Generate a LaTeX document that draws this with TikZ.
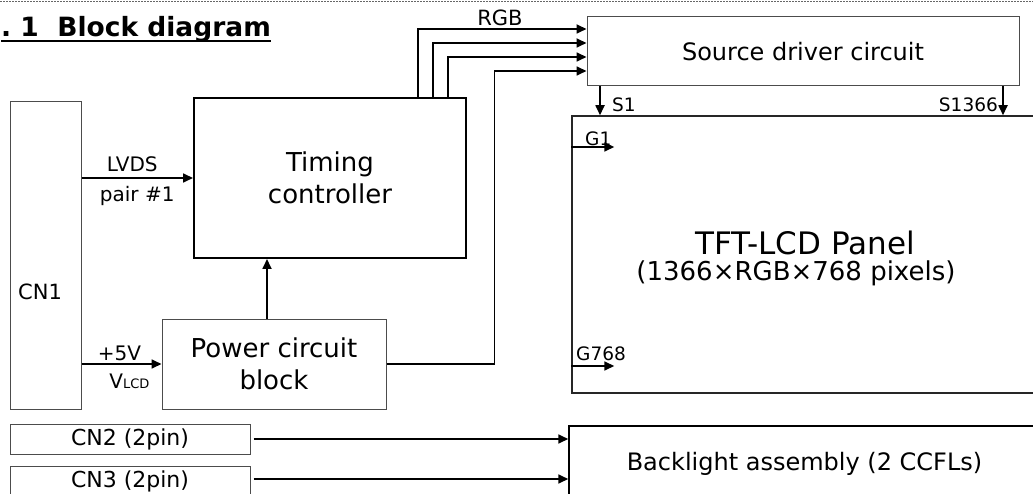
\documentclass[tikz,border=0pt]{standalone}
\usepackage{fontspec}
\setmainfont{DejaVu Sans}
\usetikzlibrary{arrows.meta, positioning, calc}

\newcommand{\setfs}[2]{\fontsize{#1}{#2}\selectfont}

\begin{document}
\begin{tikzpicture}[
    x=1pt, y=-1pt,
    box/.style={draw=black!70, line width=1pt, inner sep=0pt, font=\setfs{24}{28}},
    tcbox/.style={draw, line width=2pt, inner sep=0pt, align=center, font=\setfs{26}{32}},
    edge/.style={-{Triangle[length=10pt,width=9pt]}, line width=1.7pt},
    lbl/.style={font=\setfs{20}{24}, inner sep=2pt},
    pin/.style={font=\setfs{18.5}{22}, inner sep=0pt}
]
\useasboundingbox (0,0) rectangle (1033,494);
\clip (0,0) rectangle (1033,494);

% header
\draw[black!60, line width=1.5pt, dash pattern=on 1.5pt off 1.5pt] (0,1.5) -- (1033,1.5);
\node[anchor=base west, inner sep=0pt, font=\bfseries\setfs{26.5}{30}] (ttl) at (1,37) {.\ 1\ \ Block diagram};
\draw[line width=1.5pt] ([yshift=-4pt]ttl.base west) -- ([yshift=-4pt]ttl.base east);

% blocks
\node[box, minimum width=71pt, minimum height=307pt] (cn1) at (45.5,255.5) {};
\node[lbl, anchor=west, font=\setfs{21}{24}] (cn1txt) at (16,292) {CN1};
\node[tcbox, minimum width=272pt, minimum height=160pt] (tc) at (330,178) {Timing\\controller};
\node[box, align=center, font=\setfs{26}{32}, minimum width=224pt, minimum height=90pt] (pwr) at (274,364) {Power circuit\\block};
\node[box, minimum width=432pt, minimum height=69pt] (src) at (803,51.5) {Source driver circuit};
\node[box, draw=black!85, line width=1.5pt, minimum width=468pt, minimum height=277pt] (pnl) at (806,254.5) {};
\node[font=\setfs{31}{36}] (pnlttl) at (805,243) {TFT-LCD Panel};
\node[font=\setfs{26}{30}] (pnlsub) at (796,273) {(1366×RGB×768 pixels)};
\node[box, minimum width=240pt, minimum height=30pt, font=\setfs{22}{26}] (cn2) at (130,439) {CN2 (2pin)};
\node[box, minimum width=240pt, minimum height=30pt, font=\setfs{22}{26}] (cn3) at (130,481) {CN3 (2pin)};
\node[box, draw=black, line width=1.5pt, minimum width=471pt, minimum height=76pt] (bl) at (804.5,464) {Backlight assembly (2 CCFLs)};

% connectors
\draw[edge] (tc.west -| cn1.east) -- (tc.west)
    node[lbl, midway, above, xshift=-5pt, yshift=3pt] {LVDS}
    node[lbl, midway, below, yshift=-5pt] {pair \#1};
\draw[edge] (pwr.west -| cn1.east) -- (pwr.west)
    node[lbl, midway, above, xshift=-2pt] {+5V}
    node[lbl, midway, below, xshift=8pt, yshift=-7pt] {V{\setfs{13}{14}LCD}};
\draw[edge] ([xshift=-7pt]pwr.north) -- ([xshift=-7pt]pwr.north |- tc.south);

\foreach \dx/\dy in {88/22.5, 103/8.5, 118/-5.5}
  \draw[edge] ([xshift=\dx pt]tc.north) |- ([yshift=\dy pt]src.west);
\node[lbl, font=\setfs{21}{24}] (rgb) at (500,18) {RGB};
\draw[edge] (pwr.east) -- ++(108,0) |- ([yshift=-19.5pt]src.west);

\draw[edge] ([xshift=-203pt]src.south) -- ([xshift=-203pt]src.south |- pnl.north);
\draw[edge] ([xshift=200pt]src.south) -- ([xshift=200pt]src.south |- pnl.north);
\node[pin, anchor=base west] (s1) at (612,112) {S1};
\node[pin, anchor=base east] (s1366) at (998,112) {S1366};

\draw[edge] ([yshift=107.5pt]pnl.west) -- ++(43,0);
\draw[edge] ([yshift=-111.5pt]pnl.west) -- ++(43,0);
\node[pin, anchor=base west] (g1) at (585,146) {G1};
\node[pin, anchor=base west] (g768) at (576,360) {G768};

\draw[edge] ([xshift=3pt]cn2.east) -- (cn2.east -| bl.west);
\draw[edge] ([shift={(3pt,2pt)}]cn3.east) coordinate (c3) -- (c3 -| bl.west);
\end{tikzpicture}
\end{document}
